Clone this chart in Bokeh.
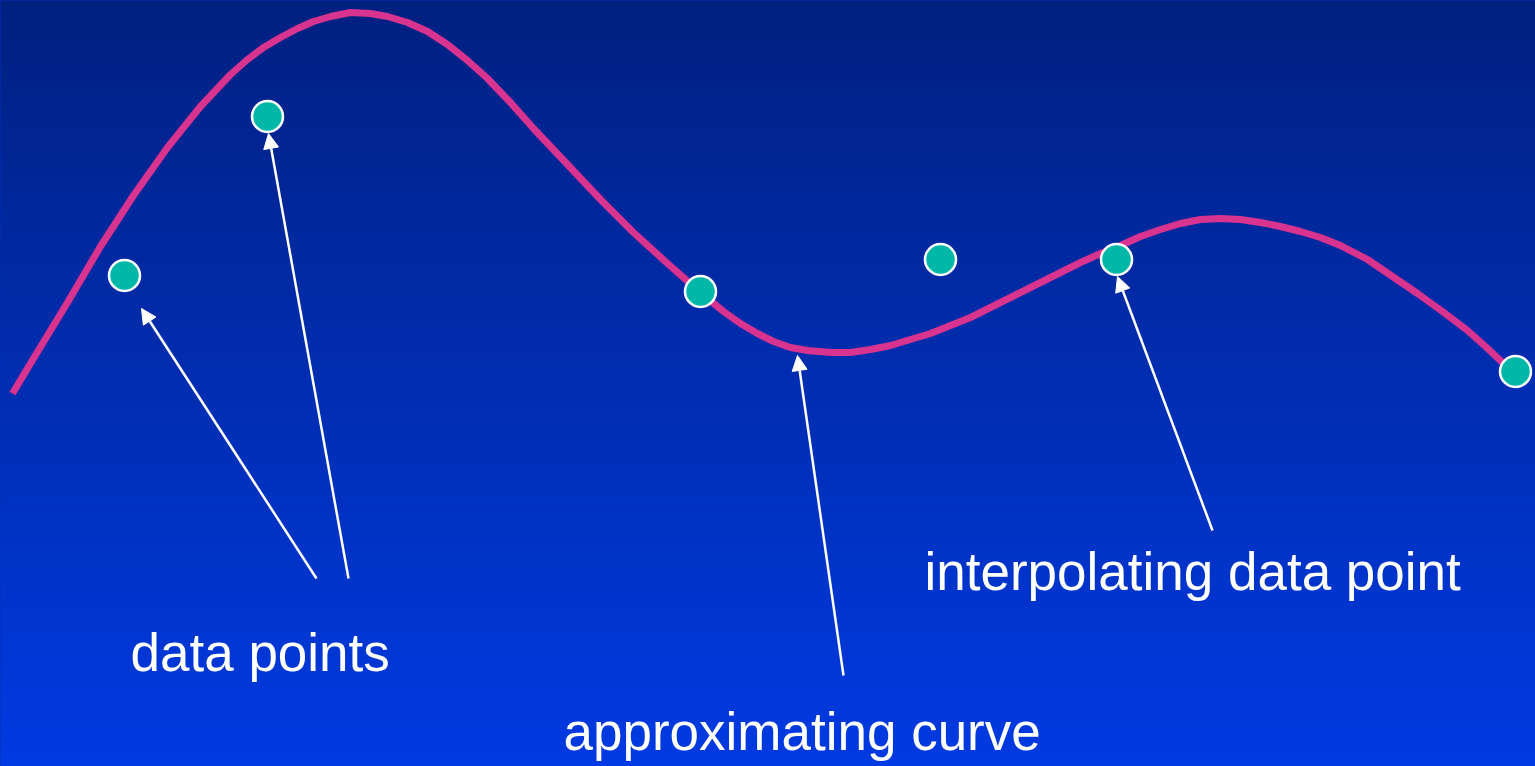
import numpy as np
from bokeh.plotting import figure
from bokeh.models import Range1d, Arrow, NormalHead, ColumnDataSource
from bokeh.core.properties import value
from bokeh.embed import file_html
from bokeh.resources import INLINE

# ---- data (x to the right, y upward) ----
curve_x = [12, 33, 67, 100, 133, 167, 200, 230, 247, 263, 280, 297, 313, 330, 350, 370,
           387, 407, 427, 447, 467, 487, 510, 533, 567, 600, 633, 667, 700, 723, 740,
           757, 773, 790, 807, 830, 850, 870, 890, 910, 930, 950, 970, 990, 1010, 1040,
           1060, 1080, 1100, 1120, 1140, 1160, 1180, 1200, 1220, 1240, 1260, 1280, 1300,
           1320, 1340, 1367, 1392, 1417, 1442, 1467, 1485, 1503]
curve_y = [373, 408, 464, 520, 571, 619, 660, 692, 707, 719, 729, 738, 745, 750, 754, 753,
           750, 744, 735, 722, 706, 688, 664, 638, 602, 567, 534, 503, 474, 455, 443,
           433, 425, 419, 416, 414, 414, 417, 421, 427, 433, 441, 449, 459, 469, 484,
           494, 504, 513, 521, 530, 537, 543, 547, 548, 547, 544, 540, 535,
           529, 521, 507, 490, 473, 455, 436, 420, 403]

point_x = [124, 267, 700, 940, 1116, 1515]
point_y = [491, 650, 475, 507, 507, 395]

arrow_tail_x = [316, 348, 843, 1212]
arrow_tail_y = [188, 188, 91, 236]
arrow_tip_x = [141, 268, 797, 1117]
arrow_tip_y = [458, 633, 411, 490]

label_text = ["data points", "interpolating data point", "approximating curve"]
label_x = [130, 924, 563]
label_y = [114, 195, 35]

W, H = 1535, 766

p = figure(width=W, height=H, x_range=Range1d(0, W), y_range=Range1d(0, H),
           output_backend="svg", toolbar_location=None, min_border=0,
           background_fill_color="#002eb6", border_fill_color="#002eb6")
p.axis.visible = False
p.grid.visible = False
p.outline_line_color = None

# vertical gradient background (dark navy at top, bright blue at bottom)
n = 120
edges = np.linspace(0, H, n + 1)
top_c = np.array([0, 32, 128])
bot_c = np.array([0, 58, 226])
cols = []
for i in range(n):
    f = 1 - (edges[i] + edges[i + 1]) / 2 / H
    c = top_c + (bot_c - top_c) * f
    cols.append("#%02x%02x%02x" % tuple(int(round(v)) for v in c))
p.quad(left=-5, right=W + 5, bottom=edges[:-1] - 0.5, top=edges[1:] + 0.5,
       fill_color=cols, line_color=None)

# approximating curve
p.line(curve_x, curve_y, line_color="#d8338f", line_width=7, line_join="round",
       line_cap="butt")

# arrows
src = ColumnDataSource(dict(x_start=arrow_tail_x, y_start=arrow_tail_y,
                            x_end=arrow_tip_x, y_end=arrow_tip_y))
p.add_layout(Arrow(source=src, x_start="x_start", y_start="y_start",
                   x_end="x_end", y_end="y_end", line_color="white", line_width=2.5,
                   end=NormalHead(size=15, fill_color="white", line_color="white",
                                  line_width=1)))

# data points
p.scatter(point_x, point_y, size=31, fill_color="#00b8a8", line_color="white",
          line_width=2.5)

# labels
p.text(label_x, label_y, text=label_text, text_color="white",
       text_font=value("Liberation Sans"), text_font_size="53px",
       text_align="left", text_baseline="alphabetic")

template = """
{% block preamble %}
<style>html, body { margin: 0 !important; padding: 0 !important; overflow: hidden; background: #002eb6; }</style>
{% endblock %}
"""
open("out.html", "w").write(file_html(p, INLINE, title="approximating curve",
                                      template=template))
